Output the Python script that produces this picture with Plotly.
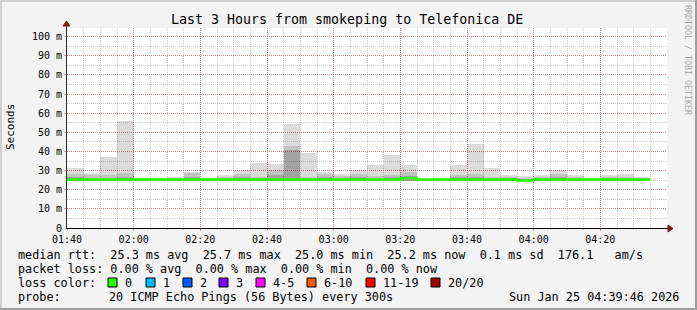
import plotly.graph_objects as go

# ---------------- data ----------------
interval_start_min = [i * 5 for i in range(35)]  # minutes after 01:40
rtt_max = [31.4, 29.0, 37.2, 56.0, 26.2, 25.8, 26.7, 29.5, 26.0, 27.7,
           30.3, 34.2, 33.3, 54.6, 39.4, 29.5, 28.4, 30.3, 33.0, 38.2,
           33.0, 25.8, 25.8, 33.0, 44.0, 31.2, 27.6, 27.0, 27.7, 30.3,
           27.7, 25.8, 27.7, 28.4, 26.8]
rtt_mid = [28.1, 27.5, 27.5, 29.0, 25.8, 25.6, 26.2, 28.5, 25.8, 26.5,
           28.0, 26.5, 30.3, 43.0, 26.5, 28.0, 27.0, 28.0, 27.0, 27.5,
           29.3, 25.6, 25.6, 27.5, 28.0, 26.5, 26.8, 26.3, 26.5, 28.0,
           26.5, 25.6, 26.8, 26.5, 26.2]
rtt_dark = [26.5, 26.0, 26.2, 26.5, 25.5, 25.5, 25.6, 26.5, 25.5, 25.8,
            26.5, 26.0, 27.5, 40.8, 25.8, 26.5, 26.0, 26.5, 26.0, 26.5,
            27.0, 25.5, 25.5, 26.5, 26.5, 25.8, 26.2, 25.8, 25.8, 26.5,
            25.8, 25.5, 26.2, 25.8, 25.6]
rtt_min = [24.6] * 35
rtt_median = [25.3, 25.3, 25.3, 25.3, 25.3, 25.3, 25.3, 25.3, 25.3, 25.3,
              25.3, 25.3, 25.3, 25.4, 25.3, 25.3, 25.3, 25.3, 25.3, 25.3,
              26.0, 25.3, 25.3, 25.3, 25.3, 25.3, 25.3, 24.8, 25.3, 25.3,
              25.3, 25.3, 25.3, 25.3, 25.3]

x_tick_vals = [0, 20, 40, 60, 80, 100, 120, 140, 160]
x_tick_labels = ["01:40", "02:00", "02:20", "02:40", "03:00",
                 "03:20", "03:40", "04:00", "04:20"]
y_tick_vals = [0, 10, 20, 30, 40, 50, 60, 70, 80, 90, 100]
y_tick_labels = ["0", "10 m", "20 m", "30 m", "40 m", "50 m",
                 "60 m", "70 m", "80 m", "90 m", "100 m"]

loss_labels = ["0", "1", "2", "3", "4-5", "6-10", "11-19", "20/20"]
loss_colors = ["#26ff00", "#00b8ff", "#0059ff", "#7e00ff",
               "#ff00ff", "#ff5500", "#ff0000", "#a10000"]

median_line = "median rtt:  25.3 ms avg  25.7 ms max  25.0 ms min  25.2 ms now  0.1 ms sd  176.1   am/s"
loss_line = "packet loss: 0.00 % avg  0.00 % max  0.00 % min  0.00 % now"
probe_label = "probe:"
probe_text = "20 ICMP Echo Pings (56 Bytes) every 300s"
stamp_text = "Sun Jan 25 04:39:46 2026"
title_text = "Last 3 Hours from smokeping to Telefonica DE"

# ---------------- layout geometry (pixels) ----------------
W, H = 697, 310
PL, PR, PT, PB = 67, 667, 28, 228


def px(xp):
    return (xp - PL) / (PR - PL)


def py(yp):
    return (PB - yp) / (PB - PT)


MONO = "DejaVu Sans Mono"

fig = go.Figure()

# smoke layers
for top, col in [(rtt_max, "rgba(0,0,0,0.14)"),
                 (rtt_mid, "rgba(0,0,0,0.11)"),
                 (rtt_dark, "rgba(0,0,0,0.16)")]:
    fig.add_trace(go.Bar(
        x=interval_start_min,
        y=[t - b for t, b in zip(top, rtt_min)],
        base=rtt_min,
        width=5, offset=0,
        marker=dict(color=col, line=dict(width=0)),
        hoverinfo="skip", showlegend=False))

# median line
fig.add_trace(go.Scatter(
    x=interval_start_min + [interval_start_min[-1] + 5],
    y=rtt_median + [rtt_median[-1]],
    mode="lines", line=dict(color="#26ff00", width=2.5, shape="hv"),
    hoverinfo="skip", showlegend=False))

minor_grid = "rgba(143,143,143,0.45)"
major_grid = "rgba(222,48,48,0.42)"

fig.update_layout(
    width=W, height=H,
    margin=dict(l=PL, r=W - PR, t=PT, b=H - PB),
    paper_bgcolor="#f3f3f3", plot_bgcolor="#ffffff",
    barmode="overlay", bargap=0,
    showlegend=False,
    font=dict(family=MONO, size=10, color="#000000"),
    xaxis=dict(
        range=[0, 180], tickmode="array", tickvals=x_tick_vals,
        ticktext=x_tick_labels, showgrid=True, gridcolor=major_grid,
        griddash="1px,1px", gridwidth=1, zeroline=False, showline=False,
        ticks="outside", ticklen=2, tickcolor=major_grid,
        tickfont=dict(family=MONO, size=10),
        minor=dict(tickmode="linear", tick0=0, dtick=5, showgrid=True,
                   gridcolor=minor_grid, griddash="1px,1px", gridwidth=1,
                   ticks="outside", ticklen=1, tickcolor=minor_grid),
        fixedrange=True),
    yaxis=dict(
        range=[0, 104.5], tickmode="array", tickvals=y_tick_vals,
        ticktext=y_tick_labels, showgrid=True, gridcolor=major_grid,
        griddash="1px,1px", gridwidth=1, zeroline=False, showline=False,
        ticks="outside", ticklen=2, tickcolor=major_grid,
        tickfont=dict(family=MONO, size=10),
        minor=dict(tickmode="linear", tick0=0, dtick=5, showgrid=True,
                   gridcolor=minor_grid, griddash="1px,1px", gridwidth=1),
        fixedrange=True),
)

shapes = []
# frame shading
shapes.append(dict(type="rect", xref="paper", yref="paper",
                   x0=px(0), x1=px(W), y0=py(0), y1=py(2),
                   fillcolor="#cfcfcf", line=dict(width=0), layer="below"))
shapes.append(dict(type="rect", xref="paper", yref="paper",
                   x0=px(0), x1=px(2), y0=py(0), y1=py(H),
                   fillcolor="#cfcfcf", line=dict(width=0), layer="below"))
shapes.append(dict(type="rect", xref="paper", yref="paper",
                   x0=px(0), x1=px(W), y0=py(H - 2), y1=py(H),
                   fillcolor="#9e9e9e", line=dict(width=0), layer="below"))
shapes.append(dict(type="rect", xref="paper", yref="paper",
                   x0=px(W - 2), x1=px(W), y0=py(0), y1=py(H),
                   fillcolor="#9e9e9e", line=dict(width=0), layer="below"))
# axes
shapes.append(dict(type="line", xref="paper", yref="paper",
                   x0=px(66), x1=px(669), y0=py(228.5), y1=py(228.5),
                   line=dict(color="#000000", width=1)))
shapes.append(dict(type="line", xref="paper", yref="paper",
                   x0=px(66.5), x1=px(66.5), y0=py(228.5), y1=py(24),
                   line=dict(color="#3a2a2a", width=1)))
# arrows
shapes.append(dict(type="path", xref="paper", yref="paper",
                   path=f"M {px(668)} {py(225)} L {px(673)} {py(228.5)} L {px(668)} {py(232)} Z",
                   fillcolor="#7f1f1f", line=dict(color="#7f1f1f", width=1)))
shapes.append(dict(type="path", xref="paper", yref="paper",
                   path=f"M {px(63)} {py(26)} L {px(66.5)} {py(21)} L {px(70)} {py(26)} Z",
                   fillcolor="#7f1f1f", line=dict(color="#7f1f1f", width=1)))

# loss colour squares
square_x = [108, 146, 183, 219, 256, 307, 366, 431]
for sx, col in zip(square_x, loss_colors):
    shapes.append(dict(type="rect", xref="paper", yref="paper",
                       x0=px(sx), x1=px(sx + 9), y0=py(278), y1=py(287),
                       fillcolor=col, line=dict(color="#000000", width=1)))

annotations = []


def txt(s, x, y, size=11.8, anchor="left", color="#000000", angle=0):
    annotations.append(dict(
        text=s.replace(" ", "\u00a0"), x=px(x), y=py(y), xref="paper", yref="paper",
        xanchor=anchor, yanchor="middle", showarrow=False, textangle=angle,
        font=dict(family=MONO, size=size, color=color)))


txt(title_text, 347, 19, size=13.3, anchor="center")
txt("Seconds", 10, 127, size=11, anchor="center", angle=-90)
txt("RRDTOOL / TOBI OETIKER", 688, 60, size=8.3, anchor="center",
    color="#a8a8a8", angle=90)
txt(median_line, 16, 254.5)
txt(loss_line, 16, 268.5)
txt("loss color:", 16, 282.5)
for sx, lab in zip(square_x, loss_labels):
    txt(lab, sx + 15, 282.5)
txt(probe_label, 16, 296.5)
txt(probe_text, 107, 296.5)
txt(stamp_text, 681, 296.5, anchor="right")

fig.update_layout(shapes=shapes, annotations=annotations)

fig.write_html("out.html")
